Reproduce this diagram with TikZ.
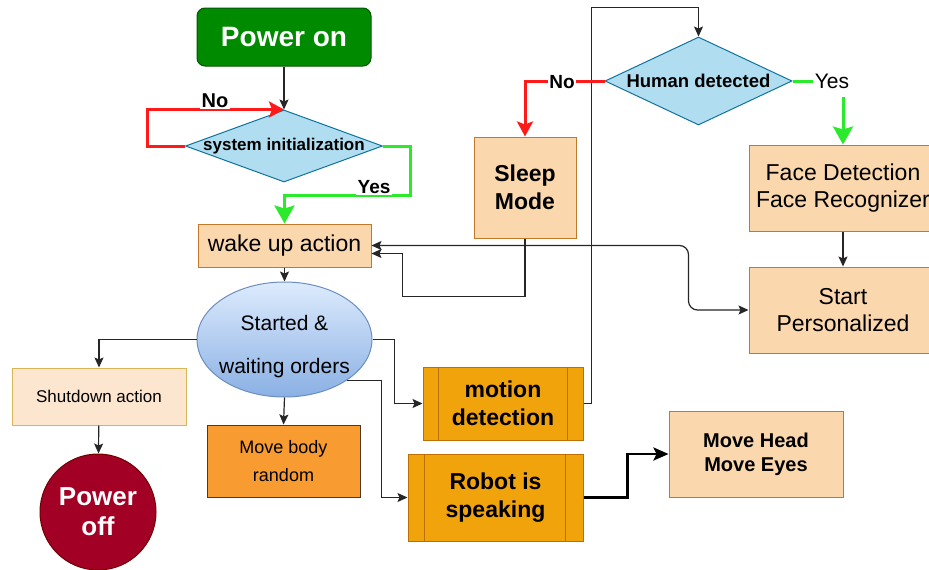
\documentclass[tikz,border=0pt]{standalone}
\usepackage{fontspec}
\setmainfont{Liberation Sans}
\usetikzlibrary{arrows.meta,shapes.geometric,calc}
\definecolor{onfill}{HTML}{008A00}
\definecolor{onstroke}{HTML}{005700}
\definecolor{offfill}{HTML}{A20025}
\definecolor{offstroke}{HTML}{6F0000}
\definecolor{diafill}{HTML}{B1DDF0}
\definecolor{diastroke}{HTML}{10739E}
\definecolor{peach}{HTML}{FAD7AC}
\definecolor{peachstroke}{HTML}{C07A2A}
\definecolor{shutfill}{HTML}{FDE6CF}
\definecolor{shutstroke}{HTML}{D6B656}
\definecolor{bodyfill}{HTML}{F89B30}
\definecolor{bodystroke}{HTML}{4D3A1E}
\definecolor{procfill}{HTML}{F0A30A}
\definecolor{procstroke}{HTML}{BD7000}
\definecolor{elltop}{HTML}{DDEBFD}
\definecolor{ellbot}{HTML}{8AB0E4}
\definecolor{ellstroke}{HTML}{6C8EBF}
\definecolor{nored}{HTML}{FF1A1A}
\definecolor{yesgreen}{HTML}{2BEA2B}
\newcommand{\fs}[1]{\fontsize{#1}{1.2\dimexpr #1pt\relax}\selectfont}
\tikzset{
  box/.style={draw, line width=1pt, rectangle, align=center, inner sep=2pt},
  peachbox/.style={box, fill=peach, draw=peachstroke},
  procbox/.style={box, fill=procfill, draw=procstroke, font=\fs{23}\bfseries},
  dia/.style={diamond, draw=diastroke, fill=diafill, line width=1pt, inner sep=0pt},
  arr/.style={draw=black!85, line width=1.2pt, -{Stealth[length=10pt,width=9pt,inset=2pt]}},
  redarr/.style={draw=nored, line width=3pt, -{Stealth[length=15pt,width=16pt,inset=3pt]}},
  greenarr/.style={draw=yesgreen, line width=3pt, -{Stealth[length=18pt,width=20pt,inset=3pt]}},
  lbl/.style={fill=white, inner sep=1.5pt, text=black}
}
\begin{document}
\begin{tikzpicture}[x=1pt,y=-1pt]
\useasboundingbox (0,0) rectangle (929,570);
\clip (0,0) rectangle (929,570);
\fill[white] (0,0) rectangle (929,570);

% nodes
\node[box, rounded corners=8pt, fill=onfill, draw=onstroke, text=white,
      minimum width=174pt, minimum height=58pt, font=\fs{28}\bfseries] (on) at (284,37) {Power on};
\node[dia, minimum width=197pt, minimum height=72pt,
      label={[font=\fs{17}\bfseries]center:system initialization}] (sys) at (284,146) {};
\node[peachbox, minimum width=173pt, minimum height=43pt, font=\fs{23}] (wake) at (284.5,245.5) {wake up action};
\node[ellipse, draw=ellstroke, line width=1pt, top color=elltop, bottom color=ellbot,
      minimum width=175pt, minimum height=115pt, inner sep=0pt,
      label={[align=center, yshift=-7pt, font=\fontsize{21}{43}\selectfont]center:Started \&\\waiting orders}] (ell) at (284.5,339.5) {};
\node[box, fill=shutfill, draw=shutstroke, minimum width=174pt, minimum height=57pt, font=\fs{17}] (shut) at (99,396.5) {Shutdown action};
\node[circle, draw=offstroke, fill=offfill, line width=1pt, minimum size=116pt, inner sep=0pt,
      align=center, text=white, font=\fontsize{26}{30}\selectfont\bfseries] (off) at (98,512) {Power\\off};
\node[box, fill=bodyfill, draw=bodystroke, minimum width=153pt, minimum height=72pt,
      font=\fontsize{18}{28}\selectfont] (body) at (283.5,461) {Move body\\random};
\node[procbox, minimum width=160pt, minimum height=73pt] (md) at (503,403.5) {motion\\detection};
\node[procbox, minimum width=175pt, minimum height=87pt] (rs) at (495.5,497.5) {Robot is\\speaking};
\node[peachbox, minimum width=174pt, minimum height=86pt, font=\fs{20}\bfseries] (mh) at (756,454) {Move Head\\Move Eyes};
\node[dia, minimum width=187pt, minimum height=88pt,
      label={[font=\fs{18.5}\bfseries]center:Human detected}] (hd) at (698.5,81) {};
\node[peachbox, minimum width=102pt, minimum height=101pt, font=\fs{23}\bfseries] (sleep) at (525,187.5) {Sleep\\Mode};
\node[peachbox, minimum width=188pt, minimum height=86pt, font=\fs{23}] (face) at (843,188) {Face Detection\\Face Recognizer};
\node[peachbox, minimum width=188pt, minimum height=86pt, font=\fs{23}] (start) at (843,310) {Start\\Personalized};

% inner bars of process boxes
\draw[procstroke, line width=1pt] ([xshift=16pt]md.north west) -- ([xshift=16pt]md.south west);
\draw[procstroke, line width=1pt] ([xshift=-16pt]md.north east) -- ([xshift=-16pt]md.south east);
\draw[procstroke, line width=1pt] ([xshift=17pt]rs.north west) -- ([xshift=17pt]rs.south west);
\draw[procstroke, line width=1pt] ([xshift=-18pt]rs.north east) -- ([xshift=-18pt]rs.south east);

% connectors
\draw[arr] (on) -- (sys.north);
\draw[redarr] (sys.west) -- ++(-38,0) |- (sys.north);
\node[lbl, font=\fs{20}\bfseries] (no1) at (215,101) {No};
\draw[greenarr] (sys.east) -- ++(27,0) -- ++(0,49) -| (wake.north);
\node[lbl, font=\fs{19}\bfseries] (yes1) at (374,187) {Yes};
\draw[arr] (wake) -- (ell);
\draw[arr] (ell.west) -| (shut.north);
\draw[arr] (shut) -- (off);
\draw[arr] (ell.south) -- (body.north);
\draw[arr] (ell.east) -- ++(22,0) |- (md.west);
\draw[arr] (ell.-33) -- ++(34,0) |- (rs.west);
\draw[draw=black, line width=2.6pt, -{Stealth[length=15pt,width=13pt,inset=3pt]}] (rs.east) -- ++(44,0) |- (mh.west);
\draw[arr] (md.east) -- ++(8,0) |- ($(hd.north)+(0,-29)$) -- (hd.north);
\draw[redarr] (hd.west) -| (sleep.north);
\node[lbl, font=\fs{19}\bfseries] (no2) at (562,82) {No};
\draw[greenarr] (hd.east) -| (face.north);
\node[lbl, font=\fs{21}, minimum height=31pt] (yes2) at (832,81) {Yes};
\draw[arr] (face) -- (start);
\draw[arr, {Stealth[length=10pt,width=9pt,inset=2pt]}-{Stealth[length=10pt,width=9pt,inset=2pt]}, rounded corners=9pt]
  (wake.east) -- ++(317,0) |- (start.west);
\draw[arr, rounded corners=0pt] (sleep.south) -- ++(0,58) -| ($(wake.east)+(31,8)$) -- ($(wake.east)+(0,8)$);
\end{tikzpicture}
\end{document}
